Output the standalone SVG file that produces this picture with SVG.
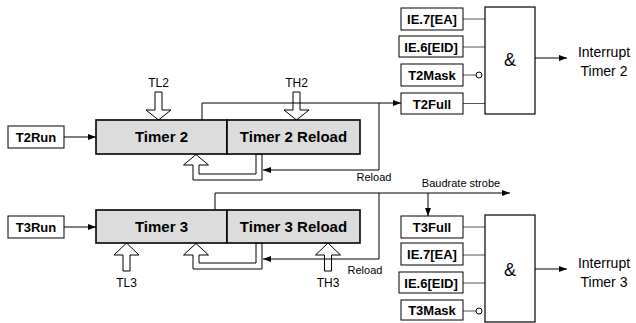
<svg xmlns="http://www.w3.org/2000/svg" width="636" height="323" viewBox="0 0 636 323">
<defs>
<marker id="ah" viewBox="0 0 8 6" refX="8" refY="3" markerWidth="8" markerHeight="6" markerUnits="userSpaceOnUse" orient="auto">
<path d="M0,0 L8,3 L0,6 Z" fill="#000"/>
</marker>
</defs>
<style>
.bx{fill:#fff;stroke:#000;stroke-width:1}
.tm{fill:#dcdcdc;stroke:#000;stroke-width:1.6}
.gate{fill:#fff;stroke:#000;stroke-width:1.2}
.hol{fill:#fff;stroke:#000;stroke-width:1}
.ln{fill:none;stroke:#000;stroke-width:1}
.in{fill:none;stroke:#555;stroke-width:1}
.b13{font-family:"Liberation Sans",Arial,sans-serif;font-weight:bold;font-size:13px;text-anchor:middle}
.b15{font-family:"Liberation Sans",Arial,sans-serif;font-weight:bold;font-size:15px;text-anchor:middle}
.r12{font-family:"Liberation Sans",Arial,sans-serif;font-size:12px;text-anchor:middle}
.r14{font-family:"Liberation Sans",Arial,sans-serif;font-size:14px;text-anchor:middle}
.r11{font-family:"Liberation Sans",Arial,sans-serif;font-size:11px;text-anchor:middle}
.amp{font-family:"Liberation Sans",Arial,sans-serif;font-size:18px;text-anchor:middle}
</style>
<rect width="636" height="323" fill="#fff"/>

<!-- hollow arrows -->
<g id="tl2"><path class="hol" d="M155,92 H162 V110 H171 L158.5,120 L146,110 H155 Z"/><text class="r12" x="158.5" y="87">TL2</text></g>
<g id="th2"><path class="hol" d="M293,92 H300 V110 H309 L296.5,120 L284,110 H293 Z"/><text class="r12" x="296.5" y="87">TH2</text></g>
<g id="tl3"><path class="hol" d="M123,271 H130 V255 H139 L126.5,243 L114,255 H123 Z"/><text class="r12" x="126.5" y="287">TL3</text></g>
<g id="th3"><path class="hol" d="M324.5,271 H331.5 V255 H340.5 L328,243 L315.5,255 H324.5 Z"/><text class="r12" x="328" y="287">TH3</text></g>
<g id="loop2"><path class="hol" d="M262,154 V180 H193 V165 H183.5 L196,154.5 L208.5,165 H199 V174 H256 V154 Z"/></g>
<g id="loop3"><path class="hol" d="M262,243 V269 H193 V255 H183.5 L196,243.5 L208.5,255 H199 V263 H256 V243 Z"/></g>

<!-- connectors -->
<g id="connectors">
<path class="ln" d="M64,137 H96" marker-end="url(#ah)"/>
<path class="ln" d="M64,227 H96" marker-end="url(#ah)"/>
<path class="ln" d="M202,120 V103 H401" marker-end="url(#ah)"/>
<path class="ln" d="M379,103 V170 H263" marker-end="url(#ah)"/>
<path class="ln" d="M215,210 V193 H510" marker-end="url(#ah)"/>
<path class="ln" d="M379,193 V259 H263" marker-end="url(#ah)"/>
<path class="ln" d="M428,193 V216" marker-end="url(#ah)"/>
<path class="in" d="M463,19 H485 M463,47 H485 M463,103.5 H485 M463,75 H476"/>
<circle cx="479" cy="75" r="3" fill="#fff" stroke="#000" stroke-width="1"/>
<path class="in" d="M463,227 H485 M463,255 H485 M463,283 H485 M463,311 H476"/>
<circle cx="479" cy="311" r="3" fill="#fff" stroke="#000" stroke-width="1"/>
<path class="ln" d="M535,58 H567" marker-end="url(#ah)"/>
<path class="ln" d="M535,269 H567" marker-end="url(#ah)"/>
<text class="r11" x="374" y="181">Reload</text>
<text class="r11" x="365" y="274">Reload</text>
<text class="r11" x="461" y="187">Baudrate strobe</text>
</g>

<g id="t2run"><rect class="bx" x="8" y="126" width="56" height="22"/><text class="b13" x="36" y="142">T2Run</text></g>
<g id="t3run"><rect class="bx" x="8" y="216" width="56" height="22"/><text class="b13" x="36" y="232">T3Run</text></g>
<g id="timer2"><rect class="tm" x="96" y="120" width="131" height="34"/><text class="b15" x="161.5" y="142">Timer 2</text></g>
<g id="timer2reload"><rect class="tm" x="227" y="120" width="133" height="34"/><text class="b15" x="293.5" y="142">Timer 2 Reload</text></g>
<g id="timer3"><rect class="tm" x="96" y="210" width="131" height="33"/><text class="b15" x="161.5" y="232">Timer 3</text></g>
<g id="timer3reload"><rect class="tm" x="227" y="210" width="133" height="33"/><text class="b15" x="293.5" y="232">Timer 3 Reload</text></g>

<g id="ie7a"><rect class="bx" x="401" y="8" width="62" height="22"/><text class="b13" x="432" y="24">IE.7[EA]</text></g>
<g id="ie6a"><rect class="bx" x="399" y="36" width="64" height="21"/><text class="b13" x="431" y="51.5">IE.6[EID]</text></g>
<g id="t2mask"><rect class="bx" x="401" y="64" width="62" height="22"/><text class="b13" x="432" y="80">T2Mask</text></g>
<g id="t2full"><rect class="bx" x="401" y="93" width="62" height="21"/><text class="b13" x="432" y="108.5">T2Full</text></g>
<g id="and2"><rect class="gate" x="485" y="7" width="50" height="107"/><text class="amp" x="510" y="66">&amp;</text></g>
<g id="int2"><text class="r14" x="604" y="57">Interrupt</text><text class="r14" x="604" y="76">Timer 2</text></g>

<g id="t3full"><rect class="bx" x="401" y="216" width="62" height="22"/><text class="b13" x="432" y="232">T3Full</text></g>
<g id="ie7b"><rect class="bx" x="401" y="243" width="62" height="22"/><text class="b13" x="432" y="259">IE.7[EA]</text></g>
<g id="ie6b"><rect class="bx" x="399" y="272" width="64" height="21"/><text class="b13" x="431" y="287.5">IE.6[EID]</text></g>
<g id="t3mask"><rect class="bx" x="401" y="300" width="62" height="20"/><text class="b13" x="432" y="315">T3Mask</text></g>
<g id="and3"><rect class="gate" x="485" y="215" width="50" height="107"/><text class="amp" x="510" y="276">&amp;</text></g>
<g id="int3"><text class="r14" x="604" y="268">Interrupt</text><text class="r14" x="604" y="287">Timer 3</text></g>
</svg>
